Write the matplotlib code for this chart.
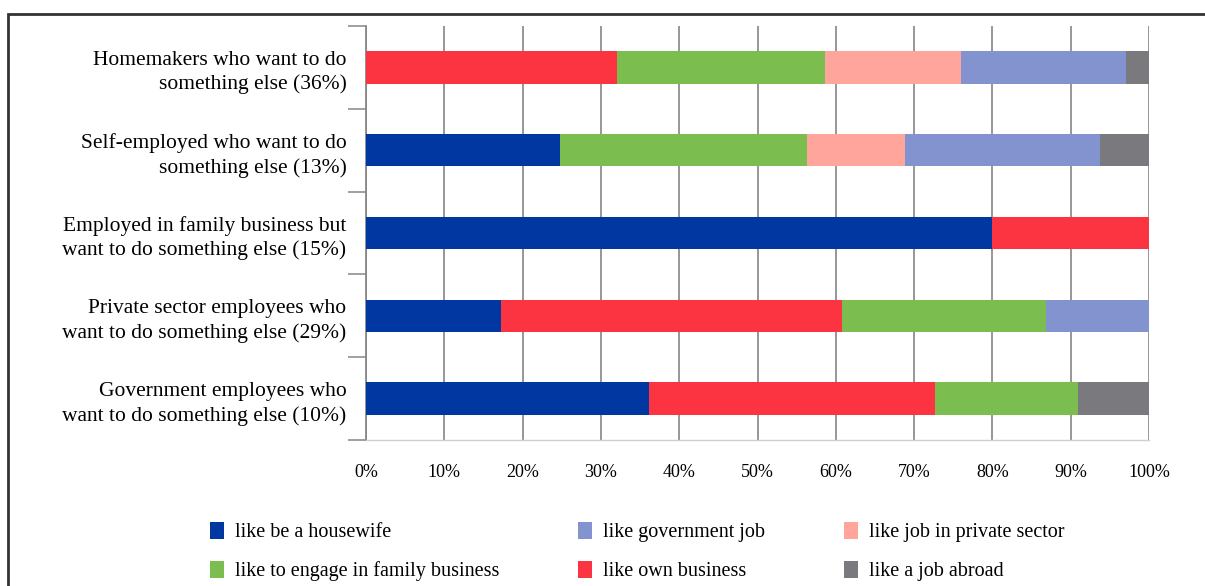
import numpy as np
import matplotlib.pyplot as plt
from matplotlib.patches import Rectangle

plt.rcParams['font.family'] = ['Liberation Serif', 'DejaVu Serif']

# categories (top to bottom as in the reference)
categories = [
    "Homemakers who want to do\nsomething else (36%)",
    "Self-employed who want to do\nsomething else (13%)",
    "Employed in family business but\nwant to do something else (15%)",
    "Private sector employees who\nwant to do something else (29%)",
    "Government employees who\nwant to do something else (10%)",
]

# shares in percent, per category, same order as categories
housewife = [0.0, 24.8, 80.0, 17.3, 36.2]
own_business = [32.1, 0.0, 20.0, 43.5, 36.5]
family_business = [26.5, 31.5, 0.0, 26.1, 18.2]
private_job = [17.4, 12.5, 0.0, 0.0, 0.0]
government_job = [21.0, 25.0, 0.0, 13.1, 0.0]
job_abroad = [3.0, 6.2, 0.0, 0.0, 9.1]

series = [
    ("like be a housewife", housewife, "#0037A1"),
    ("like own business", own_business, "#FC3441"),
    ("like to engage in family business", family_business, "#7BBD4F"),
    ("like job in private sector", private_job, "#FFA59B"),
    ("like government job", government_job, "#8393CF"),
    ("like a job abroad", job_abroad, "#7A7A7E"),
]

fig = plt.figure(figsize=(12.05, 5.86), dpi=100)
ax = fig.add_axes([366 / 1205, 1 - 440 / 586, 783 / 1205, 414 / 586])

y = np.arange(len(categories))[::-1]
left = np.zeros(len(categories))
bars = {}
for name, vals, col in series:
    vals = np.array(vals)
    bars[name] = ax.barh(y, vals, left=left, height=0.39, color=col,
                         edgecolor='none', zorder=3)
    left += vals

ax.set_xlim(0, 100)
ax.set_ylim(-0.5, len(categories) - 0.5)
ax.set_xticks(np.arange(0, 101, 10))
ax.set_xticklabels([f"{v}%" for v in range(0, 101, 10)], fontsize=13)
ax.tick_params(axis='x', length=0, pad=17)
ax.grid(axis='x', color='#858585', linewidth=1.2, zorder=0)

ax.set_yticks(y)
ax.set_yticklabels(categories, fontsize=15.5, linespacing=1.35)
ax.tick_params(axis='y', which='major', length=0, pad=14)
ax.set_yticks(np.arange(-0.5, len(categories)), minor=True)
ax.tick_params(axis='y', which='minor', length=13, color='#999999', width=1.3)

for s in ['top', 'right']:
    ax.spines[s].set_visible(False)
ax.spines['left'].set_color('#888888')
ax.spines['left'].set_linewidth(1.3)
ax.spines['bottom'].set_color('#d0d0d0')
ax.spines['bottom'].set_linewidth(1.0)

# legend, column-wise fill for 3 columns
order = ["like be a housewife", "like to engage in family business",
         "like government job", "like own business",
         "like job in private sector", "like a job abroad"]
leg = fig.legend([bars[k] for k in order], order, ncol=3, loc='upper left',
                 bbox_to_anchor=(192 / 1205, 1 - 504 / 586), frameon=False,
                 fontsize=14.5, handlelength=0.7, handleheight=0.9,
                 handletextpad=0.55, columnspacing=3.9, labelspacing=0.92)

# frame around the figure
fig.patches.append(Rectangle((8 / 1205, -0.1), 1.2, 1 - 14 / 586 + 0.1,
                             transform=fig.transFigure, fill=False,
                             edgecolor='#333333', linewidth=2))

fig.savefig('out.png', dpi=100)
